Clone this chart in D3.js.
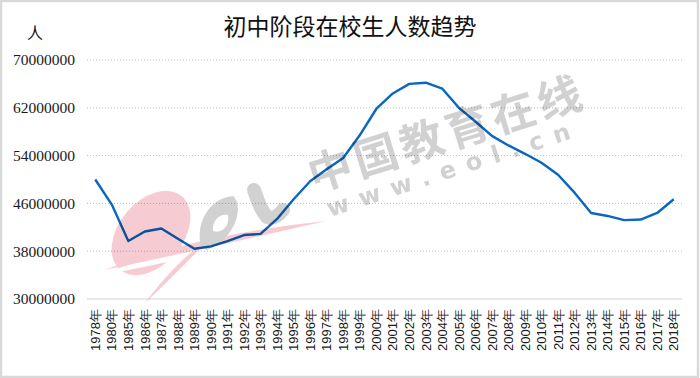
<!DOCTYPE html>
<html>
<head>
<meta charset="utf-8">
<script src="https://cdn.jsdelivr.net/npm/d3@7"></script>
<style>
  body { margin: 0; background: #fff; }
  svg { display: block; }
</style>
</head>
<body>
<div id="chart"></div>
<script>
// Data: junior high school enrolment by year
var years = ["1978年", "1980年", "1985年", "1986年", "1987年", "1988年", "1989年", "1990年",
    "1991年", "1992年", "1993年", "1994年", "1995年", "1996年", "1997年", "1998年", "1999年",
    "2000年", "2001年", "2002年", "2003年", "2004年", "2005年", "2006年", "2007年", "2008年",
    "2009年", "2010年", "2011年", "2012年", "2013年", "2014年", "2015年", "2016年", "2017年", "2018年"];
var students = [50000000, 45800000, 39700000, 41300000, 41800000, 40100000, 38400000, 38800000,
    39700000, 40700000, 40900000, 43400000, 46700000, 49700000, 51700000, 53600000, 57400000,
    61800000, 64400000, 66000000, 66200000, 65200000, 62000000, 59700000, 57300000, 55700000,
    54300000, 52800000, 50800000, 47800000, 44400000, 43900000, 43200000, 43300000, 44400000, 46700000];
var yTicks = [30000000, 38000000, 46000000, 54000000, 62000000, 70000000];

var width = 700, height = 378;
var plotLeft = 87, plotRight = 682, plotTop = 60, plotBottom = 299;

var svg = d3.select("#chart").append("svg")
    .attr("width", width)
    .attr("height", height);

// outer border
svg.append("rect")
    .attr("x", 1).attr("y", 1)
    .attr("width", width - 3).attr("height", height - 2)
    .attr("fill", "#fff")
    .attr("stroke", "#d9d9d9")
    .attr("stroke-width", 2.5);

var x = d3.scaleBand().domain(years).range([plotLeft, plotRight]);
var y = d3.scaleLinear().domain([30000000, 70000000]).range([plotBottom, plotTop]);

// gridlines
svg.append("g").selectAll("line")
    .data(yTicks.slice(1)).enter()
    .append("line")
    .attr("x1", plotLeft).attr("x2", plotRight)
    .attr("y1", function (d) { return y(d); })
    .attr("y2", function (d) { return y(d); })
    .attr("stroke", "#bfbfbf")
    .attr("stroke-dasharray", "1,2");

// x axis line
svg.append("line")
    .attr("x1", plotLeft).attr("x2", plotRight)
    .attr("y1", y(30000000)).attr("y2", y(30000000))
    .attr("stroke", "#e0e0e0")
    .attr("stroke-width", 1.5);

// y tick labels
svg.append("g").selectAll("text")
    .data(yTicks).enter()
    .append("text")
    .attr("x", 75)
    .attr("y", function (d) { return y(d); })
    .attr("dy", "0.35em")
    .attr("text-anchor", "end")
    .style("font-family", "'Liberation Serif', 'Times New Roman', serif")
    .style("font-size", "15.5px")
    .style("fill", "#1a1a1a")
    .text(function (d) { return d; });

// x tick labels, rotated
svg.append("g").selectAll("text")
    .data(years).enter()
    .append("text")
    .attr("transform", function (d) {
        return "translate(" + (x(d) + x.bandwidth() / 2) + "," + 309 + ") rotate(-90)";
    })
    .attr("dy", "0.36em")
    .attr("text-anchor", "end")
    .style("font-family", "'Liberation Sans', Arial, sans-serif")
    .style("font-size", "13px")
    .style("fill", "#1a1a1a")
    .text(function (d) { return d; });

// the line
var line = d3.line()
    .x(function (d, i) { return x(years[i]) + x.bandwidth() / 2; })
    .y(function (d) { return y(d); });

svg.append("path")
    .datum(students)
    .attr("d", line)
    .attr("fill", "none")
    .attr("stroke", "#0a66c0")
    .attr("stroke-width", 2.4)
    .attr("stroke-linejoin", "round");

// title and unit
svg.append("text")
    .attr("x", 350).attr("y", 35)
    .attr("text-anchor", "middle")
    .style("font-family", "'Noto Sans CJK SC', sans-serif")
    .style("font-size", "23px")
    .style("fill", "#111")
    .text("初中阶段在校生人数趋势");

svg.append("text")
    .attr("x", 27).attr("y", 39)
    .style("font-family", "'Noto Sans CJK SC', sans-serif")
    .style("font-size", "16px")
    .style("fill", "#111")
    .text("人");

// watermark (site logo), blended over the chart
var wm = svg.append("g").style("mix-blend-mode", "multiply").style("opacity", 0.85);
var pink = "#f5c2ca", grey = "#c9c9c9";

wm.append("ellipse")
    .attr("cx", 151).attr("cy", 233)
    .attr("rx", 48).attr("ry", 32)
    .attr("transform", "rotate(-50,151,233)")
    .attr("fill", pink);

// white gap under the swoosh
wm.append("path")
    .attr("d", "M96,276 Q200,238 326,221 Q200,258 96,276 Z")
    .attr("fill", "#fff");

wm.append("path")
    .attr("d", "M104,270 Q200,234 326,221 Q200,250 104,270 Z")
    .attr("fill", pink);

wm.append("path")
    .attr("d", "M145,303 Q175,262 212,236 Q182,268 145,303 Z")
    .attr("fill", pink);

// grey "o"
wm.append("path")
    .attr("d", "M201,247 C195,222 210,198 233,196 C244,205 237,238 207,250 Z M213,231 C212,220 220,213 228,215 C230,226 222,234 213,231 Z")
    .attr("fill", grey)
    .attr("fill-rule", "evenodd");

// grey "l"
wm.append("path")
    .attr("d", "M254,190 Q261,211 267,217 Q275,220 283,210")
    .attr("fill", "none")
    .attr("stroke", grey)
    .attr("stroke-width", 14)
    .attr("stroke-linecap", "round");

wm.append("text")
    .attr("transform", "translate(314,192) rotate(-17.5)")
    .style("font-family", "'Noto Sans CJK SC', sans-serif")
    .style("font-size", "44px")
    .style("font-weight", "bold")
    .style("letter-spacing", "4px")
    .style("fill", grey)
    .text("中国教育在线");

wm.append("text")
    .attr("transform", "translate(330,217) rotate(-18)")
    .style("font-family", "'DejaVu Sans', sans-serif")
    .style("font-size", "24px")
    .style("font-weight", "bold")
    .style("letter-spacing", "11px")
    .style("fill", grey)
    .text("www.eol.cn");
</script>
</body>
</html>
